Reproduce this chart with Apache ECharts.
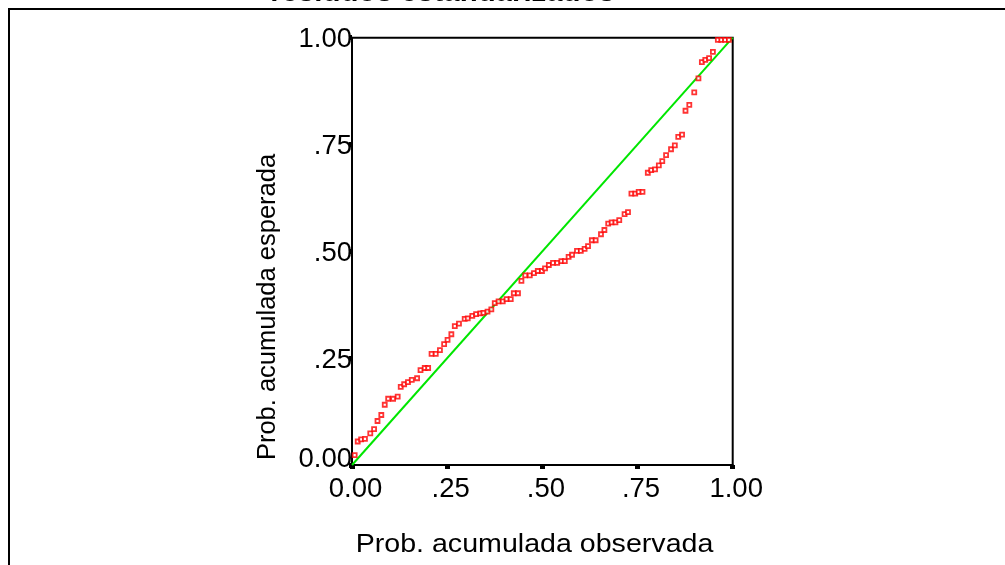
<!DOCTYPE html>
<html>
<head>
<meta charset="utf-8">
<script src="https://cdn.jsdelivr.net/npm/echarts@6/dist/echarts.min.js"></script>
<style>html,body{margin:0;padding:0;background:#fff;}#c{width:1005px;height:565px;}</style>
</head>
<body>
<div id="c"></div>
<script>
const titleText = 'residuos estandarizados';
const xAxisName = 'Prob. acumulada observada';
const yAxisName = 'Prob. acumulada esperada';
const tickValues = [0, 0.25, 0.5, 0.75, 1];
const tickLabels = ['0.00', '.25', '.50', '.75', '1.00'];
const obsProb = [0.007,0.015,0.024,0.034,0.048,0.058,0.067,0.077,0.086,0.095,0.108,0.120,0.128,0.137,0.147,0.157,0.171,0.180,0.191,0.200,0.209,0.220,0.231,0.242,0.251,0.261,0.270,0.281,0.296,0.304,0.316,0.326,0.337,0.345,0.356,0.366,0.375,0.385,0.396,0.406,0.417,0.425,0.436,0.445,0.455,0.467,0.478,0.488,0.499,0.507,0.517,0.528,0.539,0.550,0.559,0.569,0.578,0.591,0.601,0.611,0.620,0.630,0.640,0.654,0.663,0.673,0.682,0.692,0.702,0.716,0.725,0.734,0.744,0.753,0.763,0.777,0.786,0.796,0.806,0.815,0.825,0.838,0.848,0.857,0.867,0.876,0.886,0.899,0.910,0.919,0.928,0.938,0.948,0.961,0.970,0.980,0.990];
const expProb = [0.023,0.055,0.060,0.061,0.074,0.084,0.103,0.117,0.141,0.155,0.155,0.160,0.183,0.189,0.194,0.199,0.203,0.222,0.227,0.227,0.260,0.260,0.269,0.283,0.293,0.306,0.325,0.331,0.342,0.343,0.349,0.353,0.355,0.356,0.359,0.364,0.379,0.383,0.383,0.388,0.388,0.402,0.402,0.431,0.444,0.444,0.449,0.454,0.454,0.460,0.468,0.473,0.473,0.477,0.477,0.487,0.492,0.501,0.501,0.506,0.512,0.526,0.526,0.540,0.550,0.565,0.568,0.568,0.573,0.587,0.592,0.635,0.635,0.639,0.639,0.684,0.690,0.692,0.701,0.711,0.725,0.739,0.748,0.768,0.773,0.829,0.843,0.872,0.905,0.943,0.948,0.952,0.967,0.995,0.995,0.995,0.995];
const refLine = [[0, 0], [1, 1]];

const FONT = "'Liberation Sans', Arial, sans-serif";
const points = obsProb.map((x, i) => [x, expProb[i]]);
const labelFor = v => {
  const idx = tickValues.findIndex(t => Math.abs(t - v) < 1e-6);
  return idx >= 0 ? tickLabels[idx] : '';
};
const yLabelFor = v => {
  const s = labelFor(v);
  return Math.abs(v) < 1e-6 ? '{lo|' + s + '}' : s;
};

const chart = echarts.init(document.getElementById('c'), null, {renderer: 'canvas'});
chart.setOption({
  backgroundColor: '#fff',
  animation: false,
  graphic: [
    {type: 'rect', shape: {x: 9, y: 9, width: 1200, height: 800}, style: {fill: 'none', stroke: '#000', lineWidth: 2}, z: 0},
    {type: 'text', x: 442.5, y: -7, scaleX: 1.05, style: {text: titleText, font: "bold 28px " + FONT, fill: '#000', align: 'center', verticalAlign: 'middle'}},
    {type: 'text', x: 534.5, y: 545, scaleX: 1.1, style: {text: xAxisName, font: "26px " + FONT, fill: '#000', align: 'center', verticalAlign: 'middle'}},
    {type: 'text', x: 268, y: 307, rotation: Math.PI / 2, style: {text: yAxisName, font: "25.5px " + FONT, fill: '#000', align: 'center', verticalAlign: 'middle'}}
  ],
  grid: {left: 352, top: 37.7, right: 272.3, bottom: 100, show: true, borderColor: '#000', borderWidth: 2, backgroundColor: 'transparent'},
  xAxis: {
    type: 'value', min: 0, max: 1, interval: 0.25,
    axisLine: {show: true, onZero: false, lineStyle: {color: '#000', width: 2}},
    axisTick: {show: true, length: 4, lineStyle: {color: '#000', width: 5}},
    axisLabel: {fontFamily: FONT, fontSize: 27.5, color: '#000', margin: 10, padding: [0, 0, 0, 7], formatter: labelFor, showMinLabel: true, showMaxLabel: true},
    splitLine: {show: false}
  },
  yAxis: {
    type: 'value', min: 0, max: 1, interval: 0.25,
    axisLine: {show: true, onZero: false, lineStyle: {color: '#000', width: 2}},
    axisTick: {show: true, length: 3, lineStyle: {color: '#000', width: 5}},
    axisLabel: {fontFamily: FONT, fontSize: 27.5, color: '#000', margin: 0, padding: [4, 0, 0, 0], formatter: yLabelFor, showMinLabel: true, showMaxLabel: true,
      rich: {lo: {fontFamily: FONT, fontSize: 27.5, color: '#000', padding: [0, 0, 16, 0]}}},
    splitLine: {show: false}
  },
  series: [
    {type: 'line', data: refLine, symbol: 'none', lineStyle: {color: '#00e600', width: 2}, z: 2, silent: true},
    {type: 'scatter', data: points, symbol: 'rect', symbolSize: 4,
     itemStyle: {color: '#fff', borderColor: '#ff0000', borderWidth: 1.8}, z: 3, clip: false}
  ]
});
</script>
</body>
</html>
